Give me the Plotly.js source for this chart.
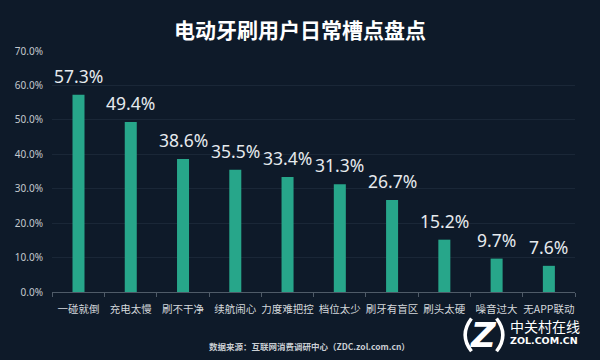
<!DOCTYPE html>
<html><head><meta charset="utf-8">
<script src="https://cdn.plot.ly/plotly-3.0.1.min.js"></script>
<style>html,body{margin:0;padding:0;background:#0e1a29;}#chart{width:600px;height:360px;}</style>
</head><body><div id="chart"></div>
<script>
const categories = ['一碰就倒','充电太慢','刷不干净','续航闹心','力度难把控','档位太少','刷牙有盲区','刷头太硬','噪音过大','无APP联动'];
const values = [57.3, 49.4, 38.6, 35.5, 33.4, 31.3, 26.7, 15.2, 9.7, 7.6];
const titleText = '电动牙刷用户日常槽点盘点';
const sourceText = '数据来源：互联网消费调研中心（ZDC.zol.com.cn）';

const font = '"Noto Sans CJK SC", "Noto Sans", sans-serif';
const trace = {
  type: 'bar', x: categories, y: values,
  marker: {color: '#27a68a'},
  width: 0.23,
  cliponaxis: false,
  hoverinfo: 'none'
};
const valueLabels = categories.map((c, i) => ({
  x: c, y: values[i], xref: 'x', yref: 'y',
  text: values[i].toFixed(1) + '%', showarrow: false,
  yanchor: 'bottom', yshift: 5,
  font: {family: '"Noto Sans", "Open Sans", sans-serif', size: 17.5, color: '#e6eaee'}
}));
const layout = {
  width: 600, height: 360,
  paper_bgcolor: '#0e1a29', plot_bgcolor: '#0e1a29',
  margin: {l: 52, r: 25, t: 51, b: 68},
  showlegend: false,
  title: {text: '<b>' + titleText + '</b>', x: 0.5, xanchor: 'center', y: 0.915, yanchor: 'middle',
          font: {family: font, size: 21, color: '#ffffff'}},
  xaxis: {
    type: 'category', showgrid: false, zeroline: false,
    showline: true, linecolor: '#4f5b68', linewidth: 1,
    ticks: 'outside', tickson: 'boundaries', ticklen: 4, tickcolor: '#4f5b68',
    tickangle: 0, ticklabelstandoff: 7,
    tickfont: {family: font, size: 10.5, color: '#d4d8dc'}
  },
  yaxis: {
    range: [0, 70], dtick: 10, tick0: 0,
    tickformat: '.1f', ticksuffix: '%',
    showgrid: true, gridcolor: '#1a2737', gridwidth: 1,
    zeroline: false, showline: false, ticks: '', ticklabelstandoff: 8,
    tickfont: {family: '"Noto Sans", sans-serif', size: 10, color: '#c4c9ce'}
  },
  annotations: valueLabels.concat([
    {text: '<b>' + sourceText + '</b>', xref: 'paper', yref: 'paper', x: 0.493, y: -0.225, xanchor: 'center', yanchor: 'middle',
     showarrow: false, font: {family: font, size: 8.5, color: '#c9ced3'}},
    {text: '中关村在线', xref: 'paper', yref: 'paper', x: 0.874, y: -0.14, xanchor: 'left', yanchor: 'middle',
     showarrow: false, borderpad: 0, font: {family: font, size: 14, color: '#ffffff'}},
    {text: '<b>ZOL.COM.CN</b>', xref: 'paper', yref: 'paper', x: 0.874, y: -0.203, xanchor: 'left', yanchor: 'middle',
     showarrow: false, borderpad: 0, font: {family: '"DejaVu Sans", sans-serif', size: 9.5, color: '#ffffff'}},
    {text: '<b><i>Z</i></b>', xref: 'paper', yref: 'paper', x: 0.825, y: -0.178, xanchor: 'center', yanchor: 'middle',
     showarrow: false, font: {family: '"DejaVu Sans", sans-serif', size: 34, color: '#ffffff'}}
  ]),
  shapes: [
    {type: 'path', xref: 'paper', yref: 'paper',
     path: 'M 0.802 -0.11 Q 0.778 -0.178 0.802 -0.246', line: {color: '#ffffff', width: 3.5}},
    {type: 'path', xref: 'paper', yref: 'paper',
     path: 'M 0.850 -0.11 Q 0.874 -0.178 0.850 -0.246', line: {color: '#ffffff', width: 3.5}}
  ]
};
Plotly.newPlot('chart', [trace], layout, {displayModeBar: false, staticPlot: true});
</script></body></html>
